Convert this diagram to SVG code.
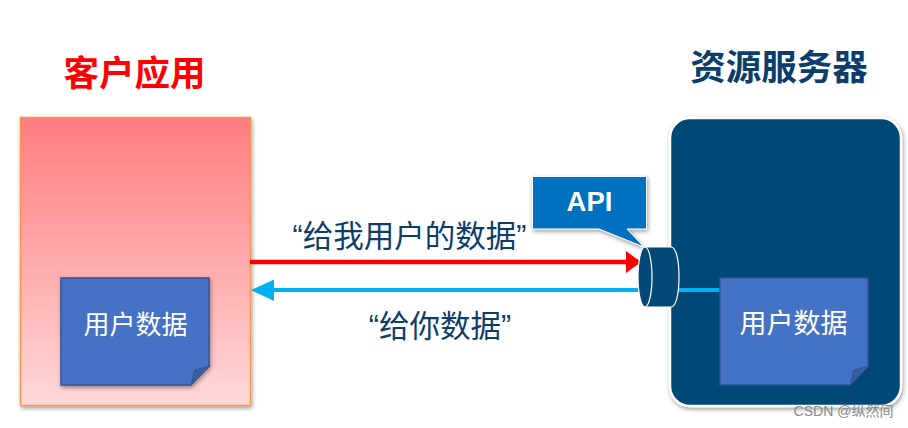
<svg xmlns="http://www.w3.org/2000/svg" width="908" height="428" viewBox="0 0 908 428">
<defs>
<linearGradient id="g" x1="0" y1="0" x2="0" y2="1"><stop offset="0" stop-color="#ff7c80"/><stop offset="1" stop-color="#ffd8d8"/></linearGradient>
<filter id="s" x="-10%" y="-10%" width="120%" height="120%"><feDropShadow dx="1" dy="2" stdDeviation="2" flood-color="#000" flood-opacity="0.4"/></filter>
<marker id="r" markerUnits="userSpaceOnUse" markerWidth="16" markerHeight="22" refX="14" refY="11" orient="auto"><path d="M0 0L15 11L0 22Z" fill="#ff0000"/></marker>
</defs>
<style>
text{font-family:"Liberation Sans","Noto Sans CJK SC",sans-serif}
.note{fill:#4472c4;stroke:#2f5597;stroke-width:1.5}
.fold{fill:#375f9f;stroke:#2f5597;stroke-width:1}
.nt{fill:#fff;text-anchor:middle}
.lb{font-size:30.500px;fill:#0c3d6b;text-anchor:middle}
.ti{font-size:35.500px;font-weight:700;text-anchor:middle}
.cyl{fill:#034876;stroke:#fff;stroke-width:1.2}
</style>
<rect width="908" height="428" fill="#fff"/>
<g id="client">
<rect x="20.500" y="117.500" width="230" height="288" fill="url(#g)" stroke="#f79646" stroke-width="1.500" filter="url(#s)"/>
<text class="ti" x="134.500" y="86" fill="#ff0000">客户应用</text>
</g>
<g id="client-data">
<path class="note" d="M61 278H209V366L191 385H61Z" filter="url(#s)"/>
<path class="fold" d="M191 385L195 370L210 366Z"/>
<text class="nt" x="135.500" y="334" font-size="26">用户数据</text>
</g>
<g id="server">
<rect x="670" y="118" width="231" height="288" rx="20" fill="#034876" stroke="#fff" stroke-width="2.500" filter="url(#s)"/>
<text class="ti" x="779" y="80" fill="#0c3d6b">资源服务器</text>
</g>
<g id="connectors">
<path d="M250 262H640" stroke="#ff0000" stroke-width="4.500" fill="none" marker-end="url(#r)"/>
<path d="M270 290H640" stroke="#00b0f0" stroke-width="4" fill="none"/>
<path d="M674 290H722" stroke="#00b0f0" stroke-width="4" fill="none"/>
<path d="M274 279.500L251 290L274 301Z" fill="#00b0f0"/>
</g>
<g id="server-data">
<path class="note" d="M720 278H868V366L850 385H720Z"/>
<path class="fold" d="M850 385L854 370L869 366Z"/>
<text class="nt" x="793.500" y="333" font-size="27">用户数据</text>
</g>
<g id="api">
<path d="M532.500 176.500H646.500V229H627L644 247L599 229H532.500Z" fill="#0070c0" stroke="#fff" stroke-width="1" filter="url(#s)"/>
<text x="589.500" y="211" font-size="27.500" font-weight="700" fill="#fff" text-anchor="middle">API</text>
</g>
<g id="gateway">
<path class="cyl" d="M644 247H671C676 247 679 260 679 277C679 294 676 307 671 307H644Z"/>
<ellipse class="cyl" cx="645" cy="277" rx="7" ry="30"/>
</g>
<g id="labels">
<text class="lb" x="409.500" y="247">“给我用户的数据”</text>
<text class="lb" x="440" y="337">“给你数据”</text>
<text x="843.500" y="416" font-size="14" fill="#8a8a8a" text-anchor="middle">CSDN @纵然间</text>
</g>
</svg>
